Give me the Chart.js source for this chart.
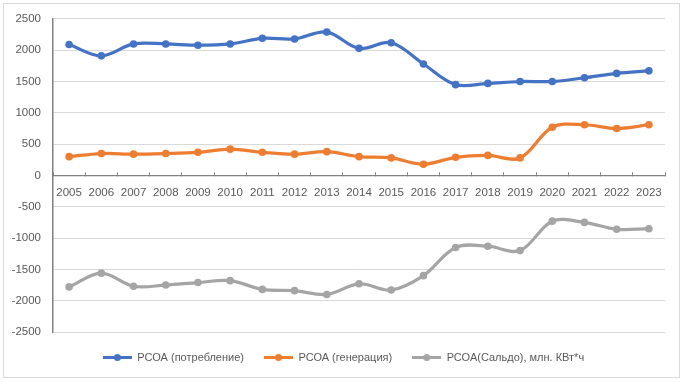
<!DOCTYPE html>
<html><head><meta charset="utf-8">
<script src="https://cdn.jsdelivr.net/npm/chart.js@4"></script>
<style>html,body{margin:0;padding:0;background:#fff}#wrap{position:relative;width:684px;height:382px}</style>
</head><body>
<div id="wrap"><canvas id="c" width="684" height="382"></canvas></div>
<script>
const years = ["2005","2006","2007","2008","2009","2010","2011","2012","2013","2014","2015","2016","2017","2018","2019","2020","2021","2022","2023"];
const consumption = [2090,1910,2100,2100,2080,2100,2190,2180,2290,2030,2120,1780,1450,1470,1500,1500,1560,1630,1670];
const generation = [300,350,340,350,370,420,370,340,380,300,280,180,290,320,280,770,810,750,810];
const saldo = [-1780,-1560,-1770,-1750,-1710,-1680,-1820,-1840,-1900,-1730,-1830,-1600,-1150,-1130,-1200,-730,-750,-860,-850];
const seriesNames = ["РСОА (потребление)","РСОА (генерация)","РСОА(Сальдо), млн. КВт*ч"];
const colors = ["#4472C4","#ED7D31","#A5A5A5"];
const FONT = "'Liberation Sans', Arial, sans-serif";

function legendIcon(color){
  const c = document.createElement('canvas');
  c.width = 29; c.height = 9;
  const x = c.getContext('2d');
  x.strokeStyle = color; x.lineWidth = 3;
  x.beginPath(); x.moveTo(0,4.5); x.lineTo(29,4.5); x.stroke();
  x.fillStyle = color; x.beginPath(); x.arc(14.5,4.5,3.5,0,Math.PI*2); x.fill();
  return c;
}
const icons = colors.map(legendIcon);

const borderPlugin = {
  id:'outerBorder',
  beforeDraw(chart){
    const ctx = chart.ctx;
    ctx.save();
    ctx.fillStyle = '#fff'; ctx.fillRect(0,0,chart.width,chart.height);
    ctx.strokeStyle = '#D9D9D9'; ctx.lineWidth = 1;
    ctx.strokeRect(3.5,3.5,676,374);
    ctx.restore();
  },
  afterLayout(chart){
    if (chart.legend) { chart.legend.left += 22; }
  }
};

function ds(label, data, i){
  return {label, data, borderColor: colors[i], backgroundColor: colors[i],
    borderWidth: 3.2, pointRadius: 3.8, pointHoverRadius: 3.8, pointBorderWidth: 0,
    tension: 0.35, fill:false};
}

new Chart(document.getElementById('c'), {
  type:'line',
  data:{ labels: years, datasets:[ds(seriesNames[0],consumption,0), ds(seriesNames[1],generation,1), ds(seriesNames[2],saldo,2)] },
  plugins:[borderPlugin],
  options:{
    responsive:false, animation:false, devicePixelRatio:1,
    layout:{padding:{left:0,right:19,top:17,bottom:9}},
    plugins:{
      tooltip:{enabled:false},
      legend:{position:'bottom', reverse:false,
        labels:{usePointStyle:true, pointStyleWidth:29, boxHeight:9, padding:20, color:'#595959',
          font:{family:FONT,size:11},
          generateLabels(chart){
            return chart.data.datasets.map((d,i)=>({text:d.label, pointStyle:icons[i], fillStyle:colors[i], strokeStyle:colors[i], lineWidth:0, hidden:false, datasetIndex:i, fontColor:'#595959'}));
          }}
      }
    },
    scales:{
      x:{ position:{y:0}, offset:true,
        grid:{offset:true, drawOnChartArea:false, drawTicks:true, tickLength:-4, color:'#808080', lineWidth:1},
        border:{display:true, color:'#808080', width:1.3},
        ticks:{color:'#595959', font:{family:FONT,size:11.5}, padding:14, maxRotation:0, autoSkip:false}
      },
      y:{ min:-2500, max:2500,
        afterFit(s){ s.width = 53; },
        grid:{color:'#D9D9D9', lineWidth:1, drawTicks:false},
        border:{display:true, color:'#808080', width:1.5},
        ticks:{stepSize:500, color:'#595959', font:{family:FONT,size:11.5}, padding:12,
          callback:(v)=>String(v)}
      }
    }
  }
});
</script>
</body></html>
